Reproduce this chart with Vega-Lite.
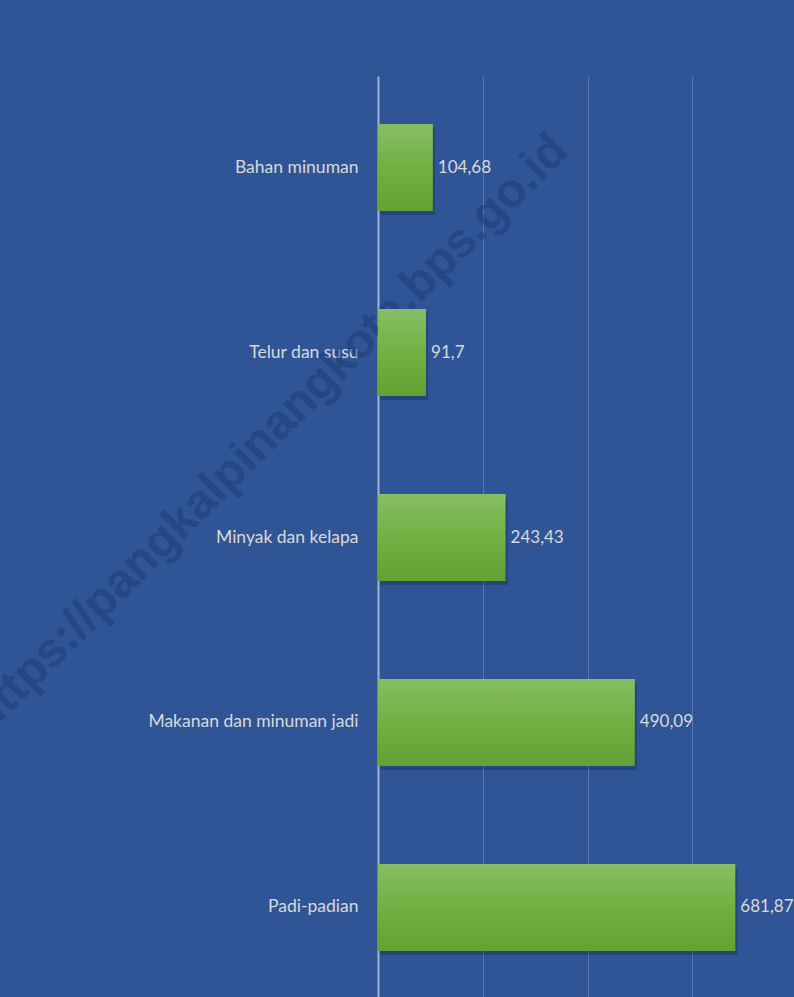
{
  "$schema": "https://vega.github.io/schema/vega-lite/v6.json",
  "autosize": "none",
  "width": 414,
  "height": 923,
  "padding": {"left": 378, "top": 76, "right": 2, "bottom": 0},
  "background": "#2F5597",
  "config": {
    "view": {"stroke": null},
    "locale": {"number": {"decimal": ",", "thousands": ".", "grouping": [3], "currency": ["Rp", ""]}},
    "text": {"font": "Lato"}
  },
  "resolve": {"scale": {"y": "independent"}, "axis": {"y": "independent"}},
  "layer": [
    {
      "data": {"values": [{"wm": "https://pangkalpinangkota.bps.go.id"}]},
      "mark": {"type": "text", "font": "Liberation Sans", "fontWeight": "bold", "fontSize": 48, "angle": -45, "align": "center", "baseline": "middle", "color": "#1E3A70", "opacity": 0.5},
      "encoding": {
        "x": {"datum": -208, "type": "quantitative", "scale": {"domain": [0, 790], "nice": false, "zero": false}},
        "y": {"datum": 0.612, "type": "quantitative", "scale": {"domain": [0, 1], "nice": false}, "axis": null},
        "text": {"field": "wm"}
      }
    },
    {
      "data": {"name": "bars", "values": [
        {"kategori": "Bahan minuman", "nilai": 104.68},
        {"kategori": "Telur dan susu", "nilai": 91.7},
        {"kategori": "Minyak dan kelapa", "nilai": 243.43},
        {"kategori": "Makanan dan minuman jadi", "nilai": 490.09},
        {"kategori": "Padi-padian", "nilai": 681.87}
      ]},
      "encoding": {
        "y": {
          "field": "kategori", "type": "nominal",
          "sort": ["Bahan minuman", "Telur dan susu", "Minyak dan kelapa", "Makanan dan minuman jadi", "Padi-padian"],
          "scale": {"paddingInner": 0.53, "paddingOuter": 0.26},
          "axis": {"title": null, "ticks": false, "labelPadding": 20, "labelLimit": 360, "labelFont": "Lato", "labelFontSize": 17.5, "labelColor": "#D9D9D9", "domainColor": "#9FB3DA", "domainWidth": 2, "grid": false}
        },
        "x": {
          "field": "nilai", "type": "quantitative",
          "scale": {"domain": [0, 790], "nice": false},
          "axis": {"title": null, "labels": false, "ticks": false, "domain": false, "grid": true, "values": [200, 400, 600], "gridColor": "#5877B3", "gridWidth": 1, "orient": "bottom"}
        }
      },
      "layer": [
        {"mark": {"type": "bar", "color": "#14284D", "opacity": 0.35, "xOffset": 2, "yOffset": 4}},
        {"mark": {"type": "bar", "color": {"gradient": "linear", "x1": 0, "y1": 0, "x2": 0, "y2": 1, "stops": [{"offset": 0, "color": "#86BF64"}, {"offset": 0.5, "color": "#72B043"}, {"offset": 1, "color": "#62A133"}]}}},
        {"mark": {"type": "text", "align": "left", "baseline": "middle", "dx": 5, "font": "Lato", "fontSize": 17, "color": "#D9D9D9"},
         "encoding": {"text": {"field": "nilai", "type": "quantitative", "format": ".5~r"}}}
      ]
    }
  ]
}
